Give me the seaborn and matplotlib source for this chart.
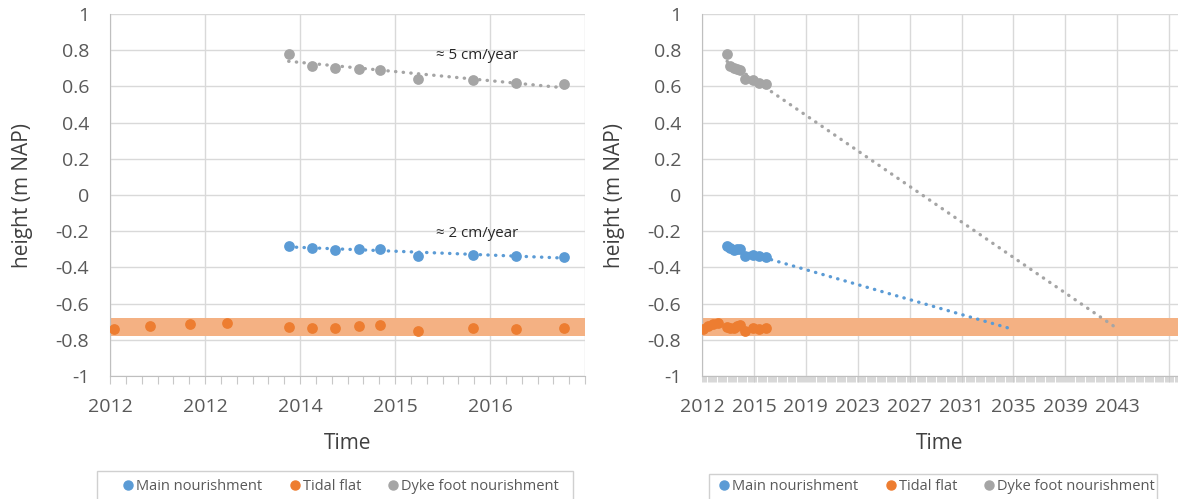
import numpy as np
import pandas as pd
import matplotlib
matplotlib.use("Agg")
import matplotlib.pyplot as plt
import seaborn as sns
from matplotlib.lines import Line2D
from matplotlib.patches import Rectangle
from matplotlib.ticker import FixedLocator, FuncFormatter

# meetdata (jaar, hoogte in m NAP)
tijd = [2012.045, 2012.424, 2012.838, 2013.232, 2013.881, 2014.129, 2014.368,
        2014.618, 2014.845, 2015.242, 2015.818, 2016.274, 2016.782]
tidal_flat = [-0.742, -0.722, -0.714, -0.707, -0.731, -0.733, -0.733,
              -0.722, -0.720, -0.750, -0.733, -0.740, -0.736]
tijd_supp = tijd[4:]
main_nourishment = [-0.280, -0.291, -0.304, -0.298, -0.298, -0.337, -0.330, -0.337, -0.341]
dyke_foot = [0.779, 0.714, 0.703, 0.697, 0.690, 0.641, 0.637, 0.617, 0.613]

tidal_band = (-0.78, -0.68)
forecast_main = 2035.3
forecast_dyke = 2043.1

links_ticks = [2012, 2013, 2014, 2015, 2016, 2017]
links_labels = ["2012", "2012", "2014", "2015", "2016", ""]
rechts_stap = 3.89
rechts_labels = ["2012", "2015", "2019", "2023", "2027", "2031", "2035", "2039", "2043", ""]

BLAUW = "#5B9BD5"
ORANJE = "#ED7D31"
GRIJS = "#A5A5A5"
BAND = "#F4B183"
TEKST = "#595959"

sns.set_style("whitegrid")
plt.rcParams['font.family'] = ['Open Sans', 'DejaVu Sans']
plt.rcParams['axes.unicode_minus'] = False

df_tidal = pd.DataFrame({"tijd": tijd, "hoogte": tidal_flat})
df_main = pd.DataFrame({"tijd": tijd_supp, "hoogte": main_nourishment})
df_dyke = pd.DataFrame({"tijd": tijd_supp, "hoogte": dyke_foot})

fig = plt.figure(figsize=(11.78, 4.99), dpi=100)
ax1 = fig.add_axes([110/1178, 1 - 376/499, 475/1178, 362/499])
ax2 = fig.add_axes([702/1178, 1 - 376/499, 476/1178, 362/499])


def trend(df, x_eind=None):
    a, b = np.polyfit(df["tijd"], df["hoogte"], 1)
    x0 = df["tijd"].min()
    x1 = df["tijd"].max() if x_eind is None else x_eind
    xs = np.array([x0, x1])
    return xs, a * xs + b


def ylabel_fmt(v, p):
    v = round(v, 1)
    if v == 0:
        return "0"
    return f"{v:g}"


def opmaak(ax, xlim, ticks, labels, minor_stap, ticklen, tickbreedte):
    ax.set_xlim(*xlim)
    ax.set_ylim(-1, 1)
    ax.set_yticks(np.arange(-1, 1.01, 0.2))
    ax.yaxis.set_major_formatter(FuncFormatter(ylabel_fmt))
    ax.xaxis.set_major_locator(FixedLocator(ticks))
    ax.set_xticklabels(labels)
    ax.xaxis.set_minor_locator(FixedLocator(np.arange(xlim[0], xlim[1], minor_stap)))
    ax.grid(True, which="major", color="#D9D9D9", linewidth=1.0)
    ax.grid(False, which="minor")
    for s in ["top", "right"]:
        ax.spines[s].set_visible(False)
    ax.spines["left"].set_color("#BFBFBF")
    ax.spines["bottom"].set_color("#BFBFBF")
    ax.tick_params(axis="x", which="both", direction="out", length=ticklen, width=tickbreedte,
                   color="#C8C8C8", bottom=True)
    ax.tick_params(axis="x", which="major", labelsize=14, labelcolor=TEKST, pad=16 - ticklen)
    ax.tick_params(axis="y", length=0, labelsize=14, labelcolor=TEKST, pad=15)
    ax.axhspan(*tidal_band, color=BAND, zorder=1, linewidth=0)


punt = dict(s=60, linewidth=0, zorder=4)
lijn = dict(linestyle=(0, (0.1, 2.2)), linewidth=2.4, dash_capstyle="round", zorder=3)

# links: meetperiode
opmaak(ax1, (2012, 2017), links_ticks, links_labels, 1/6, 5.5, 0.8)
for df, kleur in [(df_main, BLAUW), (df_dyke, GRIJS)]:
    xs, ys = trend(df)
    ax1.plot(xs, ys, color=kleur, **lijn)
sns.scatterplot(data=df_tidal, x="tijd", y="hoogte", color=ORANJE, ax=ax1, **punt)
sns.scatterplot(data=df_main, x="tijd", y="hoogte", color=BLAUW, ax=ax1, **punt)
sns.scatterplot(data=df_dyke, x="tijd", y="hoogte", color=GRIJS, ax=ax1, **punt)
ax1.text(2015.86, 0.773, "≈ 5 cm/year", fontsize=10.8, ha="center", va="center", color="#262626")
ax1.text(2015.86, -0.212, "≈ 2 cm/year", fontsize=10.8, ha="center", va="center", color="#262626")

# rechts: extrapolatie
rechts_ticks = [2012 + i * rechts_stap for i in range(len(rechts_labels))]
opmaak(ax2, (2012, 2012 + 476/51.9 * rechts_stap), rechts_ticks, rechts_labels, 1/12, 4, 0.5)
for df, kleur, eind in [(df_main, BLAUW, forecast_main), (df_dyke, GRIJS, forecast_dyke)]:
    xs, ys = trend(df, eind)
    ax2.plot(xs, ys, color=kleur, **lijn)
sns.scatterplot(data=df_tidal, x="tijd", y="hoogte", color=ORANJE, ax=ax2, **punt)
sns.scatterplot(data=df_main, x="tijd", y="hoogte", color=BLAUW, ax=ax2, **punt)
sns.scatterplot(data=df_dyke, x="tijd", y="hoogte", color=GRIJS, ax=ax2, **punt)

for ax in (ax1, ax2):
    ax.set_xlabel("Time", fontsize=15, color="#404040")
    ax.set_ylabel("height (m NAP)", fontsize=15, color="#404040")
    ax.xaxis.set_label_coords(0.5, -0.158)
    ax.yaxis.set_label_coords(-0.162, 0.5)

# legenda's onder de grafieken
handles = [Line2D([], [], marker="o", linestyle="", color=c, markersize=6.5)
           for c in (BLAUW, ORANJE, GRIJS)]
namen = ["Main nourishment", "Tidal flat", "Dyke foot nourishment"]
for (x0, breedte, top, midden) in [(97, 476, 471, 340), (709, 448, 474, 936)]:
    fig.patches.append(Rectangle((x0/1178, -0.05), breedte/1178, 0.05 + 1 - top/499,
                                 transform=fig.transFigure, facecolor="white",
                                 edgecolor="#D0D0D0", linewidth=1.0))
    fig.legend(handles, namen, loc="center", bbox_to_anchor=(midden/1178, 1 - 487/499),
               ncol=3, frameon=False, fontsize=10.5, handletextpad=0.05,
               columnspacing=1.7, handlelength=1.0, labelcolor=TEKST)

fig.savefig("out.png", dpi=100)
